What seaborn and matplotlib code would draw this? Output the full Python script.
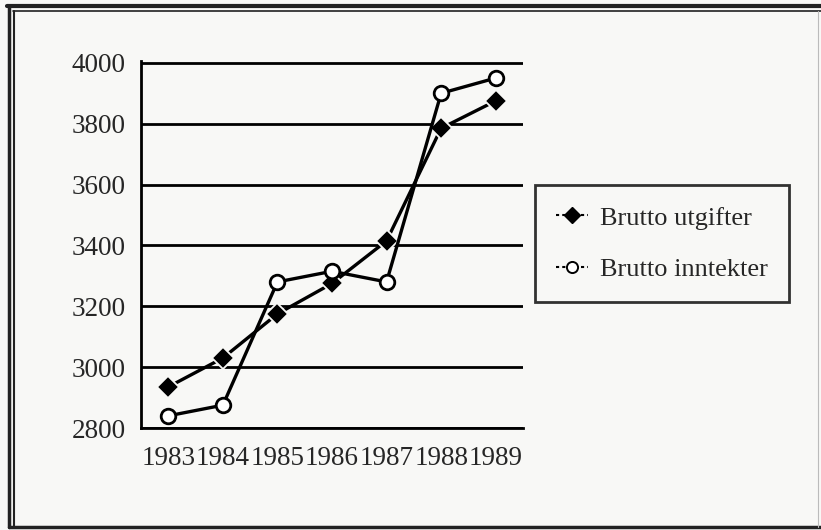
import numpy as np
import pandas as pd
import seaborn as sns
import matplotlib
matplotlib.use("Agg")
from matplotlib import pyplot as plt
from matplotlib.lines import Line2D

# data
years = [1983, 1984, 1985, 1986, 1987, 1988, 1989]
utgifter = [2935, 3030, 3175, 3275, 3415, 3785, 3875]
inntekter = [2840, 2875, 3280, 3315, 3280, 3900, 3950]
y_ticks = [2800, 3000, 3200, 3400, 3600, 3800, 4000]
label_utg = "Brutto utgifter"
label_inn = "Brutto inntekter"

df = pd.DataFrame({
    "year": years * 2,
    "value": utgifter + inntekter,
    "serie": [label_utg] * len(years) + [label_inn] * len(years),
})

sns.set_style("white")
plt.rcParams["font.family"] = ["Liberation Serif", "DejaVu Serif"]

bg = "#f8f8f6"
fig = plt.figure(figsize=(8.21, 5.30), dpi=100, facecolor=bg)
ax = fig.add_axes([141 / 821, 102 / 530, 382 / 821, 367 / 530])
ax.set_facecolor(bg)

sns.lineplot(data=df[df.serie == label_utg], x="year", y="value", ax=ax,
             color="black", lw=2.4, marker="D", markersize=11,
             markerfacecolor="black", markeredgecolor=bg, markeredgewidth=1.3,
             legend=False, zorder=4)
sns.lineplot(data=df[df.serie == label_inn], x="year", y="value", ax=ax,
             color="black", lw=2.4, marker="o", markersize=10.5,
             markerfacecolor="white", markeredgecolor="black", markeredgewidth=2,
             legend=False, zorder=5)

ax.set_xlim(1982.5, 1989.5)
ax.set_ylim(2800, 4006)
ax.set_xlabel("")
ax.set_ylabel("")

# x ticks sit between the years, labels under the years
ax.set_xticks(np.arange(1982.5, 1990, 1.0))
ax.set_xticklabels([])
ax.set_xticks(years, minor=True)
ax.set_xticklabels([str(y) for y in years], minor=True, fontsize=19.5)
ax.tick_params(axis="x", which="major", direction="inout", length=11, width=2, color="black")
ax.tick_params(axis="x", which="minor", length=0, pad=13)

ax.set_yticks(y_ticks)
ax.set_yticklabels([str(v) for v in y_ticks], fontsize=19.5)
ax.tick_params(axis="y", direction="out", length=8, width=2, color="black", pad=3)

ax.yaxis.grid(True, color="black", lw=2)
ax.xaxis.grid(False)
ax.set_axisbelow(True)

for side in ["top", "right"]:
    ax.spines[side].set_visible(False)
for side in ["left", "bottom"]:
    ax.spines[side].set_color("black")
    ax.spines[side].set_linewidth(2)

handles = [
    Line2D([], [], color="black", lw=1.5, ls=(0, (1.5, 1.5)), marker="D", markersize=8,
           markerfacecolor="black", markeredgecolor="black"),
    Line2D([], [], color="black", lw=1.5, ls=(0, (1.5, 1.5)), marker="o", markersize=8,
           markerfacecolor="white", markeredgecolor="black", markeredgewidth=1.4),
]
leg = fig.legend(handles, [label_utg, label_inn], loc="upper left",
                 bbox_to_anchor=(535 / 821, 1 - 185 / 530), bbox_transform=fig.transFigure,
                 fontsize=19, frameon=True, fancybox=False, handlelength=1.2,
                 handletextpad=0.45, labelspacing=1.05, borderpad=0.8, borderaxespad=0)
leg.get_frame().set_edgecolor("black")
leg.get_frame().set_linewidth(2)
leg.get_frame().set_facecolor(bg)

# double frame round the chart (scan cuts it off on the right)
def px_line(x0, y0, x1, y1, lw, c="#222222"):
    fig.add_artist(Line2D([x0 / 821, x1 / 821], [1 - y0 / 530, 1 - y1 / 530],
                          transform=fig.transFigure, color=c, lw=lw))

px_line(7, 6, 821, 6, 3)
px_line(9, 6, 9, 527, 2.5)
px_line(13, 11, 821, 11, 1.2)
px_line(14, 11, 14, 527, 1.5)
px_line(9, 527, 821, 527, 2.5)
px_line(818, 11, 818, 527, 0.8, "#bbbbbb")

fig.savefig("out.png", dpi=100, facecolor=bg)
